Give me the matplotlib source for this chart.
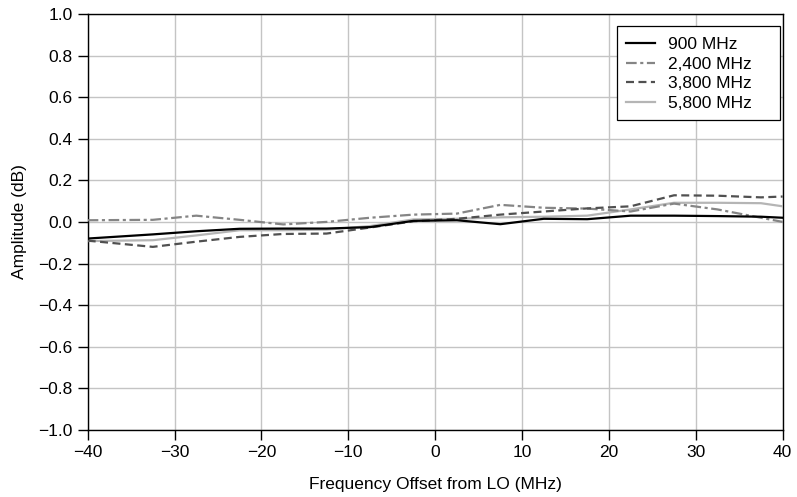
import matplotlib
matplotlib.use("Agg")
import matplotlib.pyplot as plt
from matplotlib.patches import Rectangle
from matplotlib.ticker import MultipleLocator, FuncFormatter

plt.rcParams["font.family"] = ["Liberation Sans", "DejaVu Sans"]
plt.rcParams["axes.unicode_minus"] = True

# frequency offset from LO (MHz)
freq = [-40, -32.5, -27.5, -22.5, -17.5, -12.5, -7.5, -2.5, 2.5, 7.5,
        12.5, 17.5, 22.5, 27.5, 32.5, 37.5, 40]

# amplitude (dB) per LO frequency
amp_900 = [-0.080, -0.060, -0.045, -0.033, -0.032, -0.032, -0.025, 0.005, 0.008,
           -0.011, 0.015, 0.013, 0.030, 0.030, 0.028, 0.025, 0.020]
amp_2400 = [0.008, 0.010, 0.030, 0.010, -0.012, 0.000, 0.020, 0.035, 0.040,
            0.082, 0.068, 0.064, 0.050, 0.088, 0.060, 0.020, 0.000]
amp_3800 = [-0.090, -0.120, -0.095, -0.072, -0.058, -0.056, -0.027, 0.003, 0.015,
            0.035, 0.050, 0.065, 0.075, 0.128, 0.126, 0.118, 0.122]
amp_5800 = [-0.092, -0.088, -0.065, -0.040, -0.040, -0.037, -0.020, 0.012, 0.015,
            0.022, 0.025, 0.030, 0.060, 0.092, 0.092, 0.090, 0.075]

labels = ["900 MHz", "2,400 MHz", "3,800 MHz", "5,800 MHz"]
FS = 12.5

fig = plt.figure(figsize=(7.97, 4.97), dpi=100)
ax = fig.add_axes([0.110, 0.135, 0.872, 0.837])

ax.plot(freq, amp_5800, color="#b5b5b5", lw=1.6, ls="-", label=labels[3], zorder=3)
ax.plot(freq, amp_2400, color="#858585", lw=1.6, ls=(0, (4.8, 1.6, 1.4, 1.6)), label=labels[1], zorder=4)
ax.plot(freq, amp_3800, color="#505050", lw=1.6, ls=(0, (3.6, 2.0)), label=labels[2], zorder=4)
ax.plot(freq, amp_900, color="black", lw=1.6, ls="-", label=labels[0], zorder=5)

ax.set_xlim(-40, 40)
ax.set_ylim(-1.0, 1.0)
ax.xaxis.set_major_locator(MultipleLocator(10))
ax.yaxis.set_major_locator(MultipleLocator(0.2))
ax.yaxis.set_major_formatter(FuncFormatter(lambda v, p: f"{v:.1f}".replace("-", "\u2212")))
ax.xaxis.set_major_formatter(FuncFormatter(lambda v, p: f"{v:.0f}".replace("-", "\u2212")))

ax.grid(True, color="#c4c4c4", lw=1.0)
ax.set_axisbelow(True)
for s in ax.spines.values():
    s.set_color("black")
    s.set_linewidth(1.0)
ax.tick_params(direction="out", length=7, width=1.0, labelsize=FS, pad=4)

ax.set_xlabel("Frequency Offset from LO (MHz)", fontsize=FS, labelpad=12)
ax.set_ylabel("Amplitude (dB)", fontsize=FS, labelpad=8)

# legend frame drawn separately so it can be wider than the entries
ax.add_patch(Rectangle((0.761, 0.745), 0.235, 0.226, transform=ax.transAxes,
                       facecolor="white", edgecolor="black", lw=0.9, zorder=6))
handles, labs = ax.get_legend_handles_labels()
order = [labs.index(l) for l in labels]
leg = ax.legend([handles[i] for i in order], [labs[i] for i in order],
                loc="upper left", bbox_to_anchor=(0.775, 0.945), fontsize=FS,
                frameon=False, handlelength=1.65, borderpad=0.0, labelspacing=0.26,
                handletextpad=0.75, borderaxespad=0.0)
leg.set_zorder(7)

fig.savefig("out.png", dpi=100)
